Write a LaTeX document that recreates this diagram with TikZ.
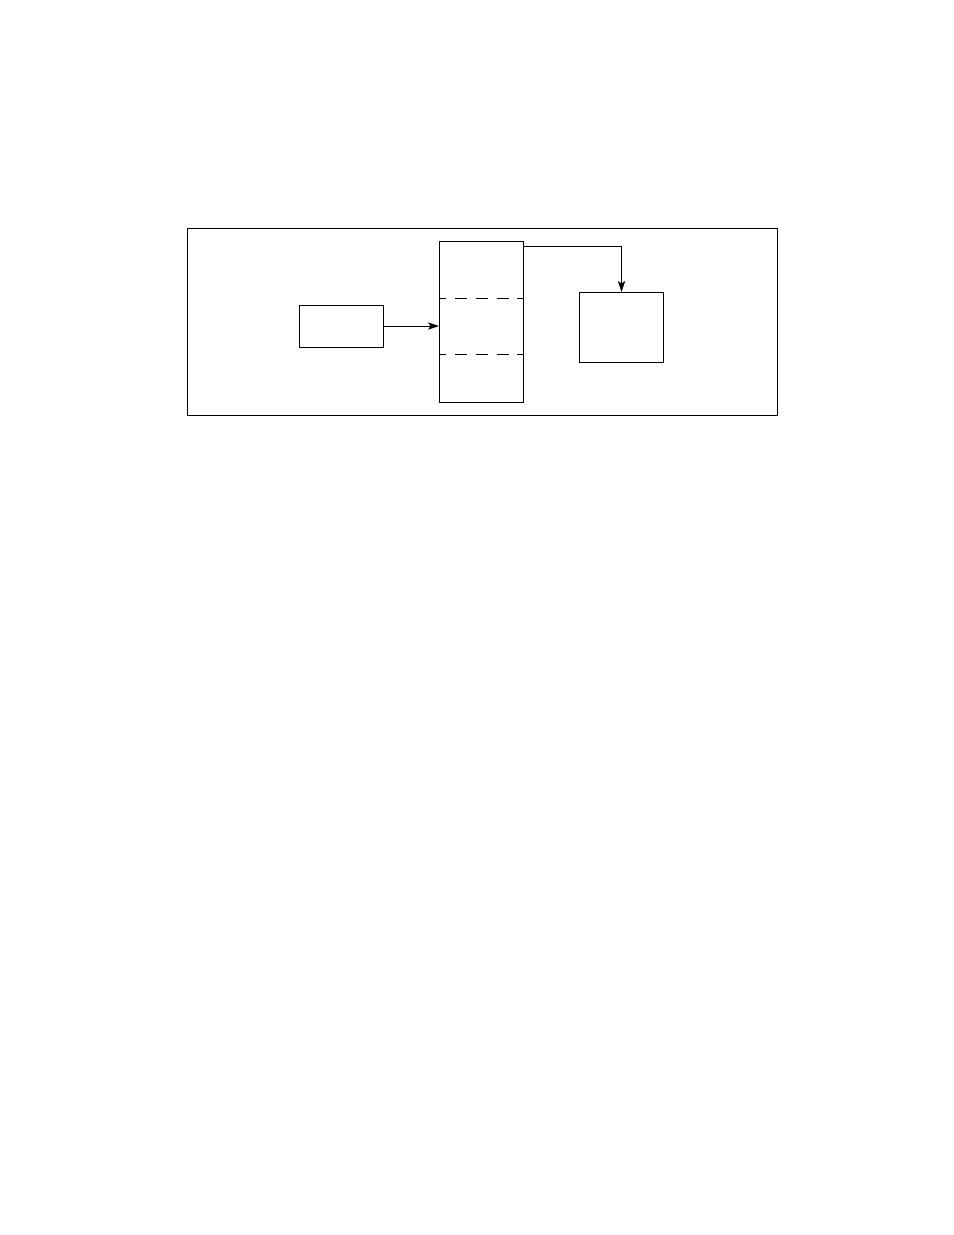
\documentclass[tikz,border=0pt]{standalone}
\usepackage{tikz}
\usetikzlibrary{arrows.meta, positioning}

\begin{document}
\begin{tikzpicture}[x=0.6415pt, y=-0.6415pt, line width=0.6pt, >={Stealth[length=7pt, width=4.6pt, inset=1.5pt]}]
			\useasboundingbox (0,0) rectangle (954,1235);
			
			% Frame
			\node[draw, minimum width=378.5pt, minimum height=120pt, inner sep=0pt] (frame) at (482,321.5) {};
			
			% Boxes
			\node[draw, minimum width=53.6pt, minimum height=26.9pt, inner sep=0pt] (src) at (341.5,326) {};
			\node[draw, minimum width=53.9pt, minimum height=103.3pt, inner sep=0pt] (stack) at (481.5,322) {};
			\node[draw, minimum width=53.9pt, minimum height=44.9pt, inner sep=0pt] (dest) at (621.5,327.5) {};
			
			% Slots
			\draw[dash pattern=on 7.7pt off 5.6pt, dash phase=3pt] (stack.west |- 0,298.5) -- (stack.east |- 0,298.5);
			\draw[dash pattern=on 7.7pt off 5.6pt, dash phase=3pt] (stack.west |- 0,354.5) -- (stack.east |- 0,354.5);
			
			% Arrows
			\draw[->] (src.east) -- (src.east -| stack.west);
			\draw[->] ([yshift=-3.3pt]stack.north east) -| (dest.north);
		\end{tikzpicture}
\end{document}
